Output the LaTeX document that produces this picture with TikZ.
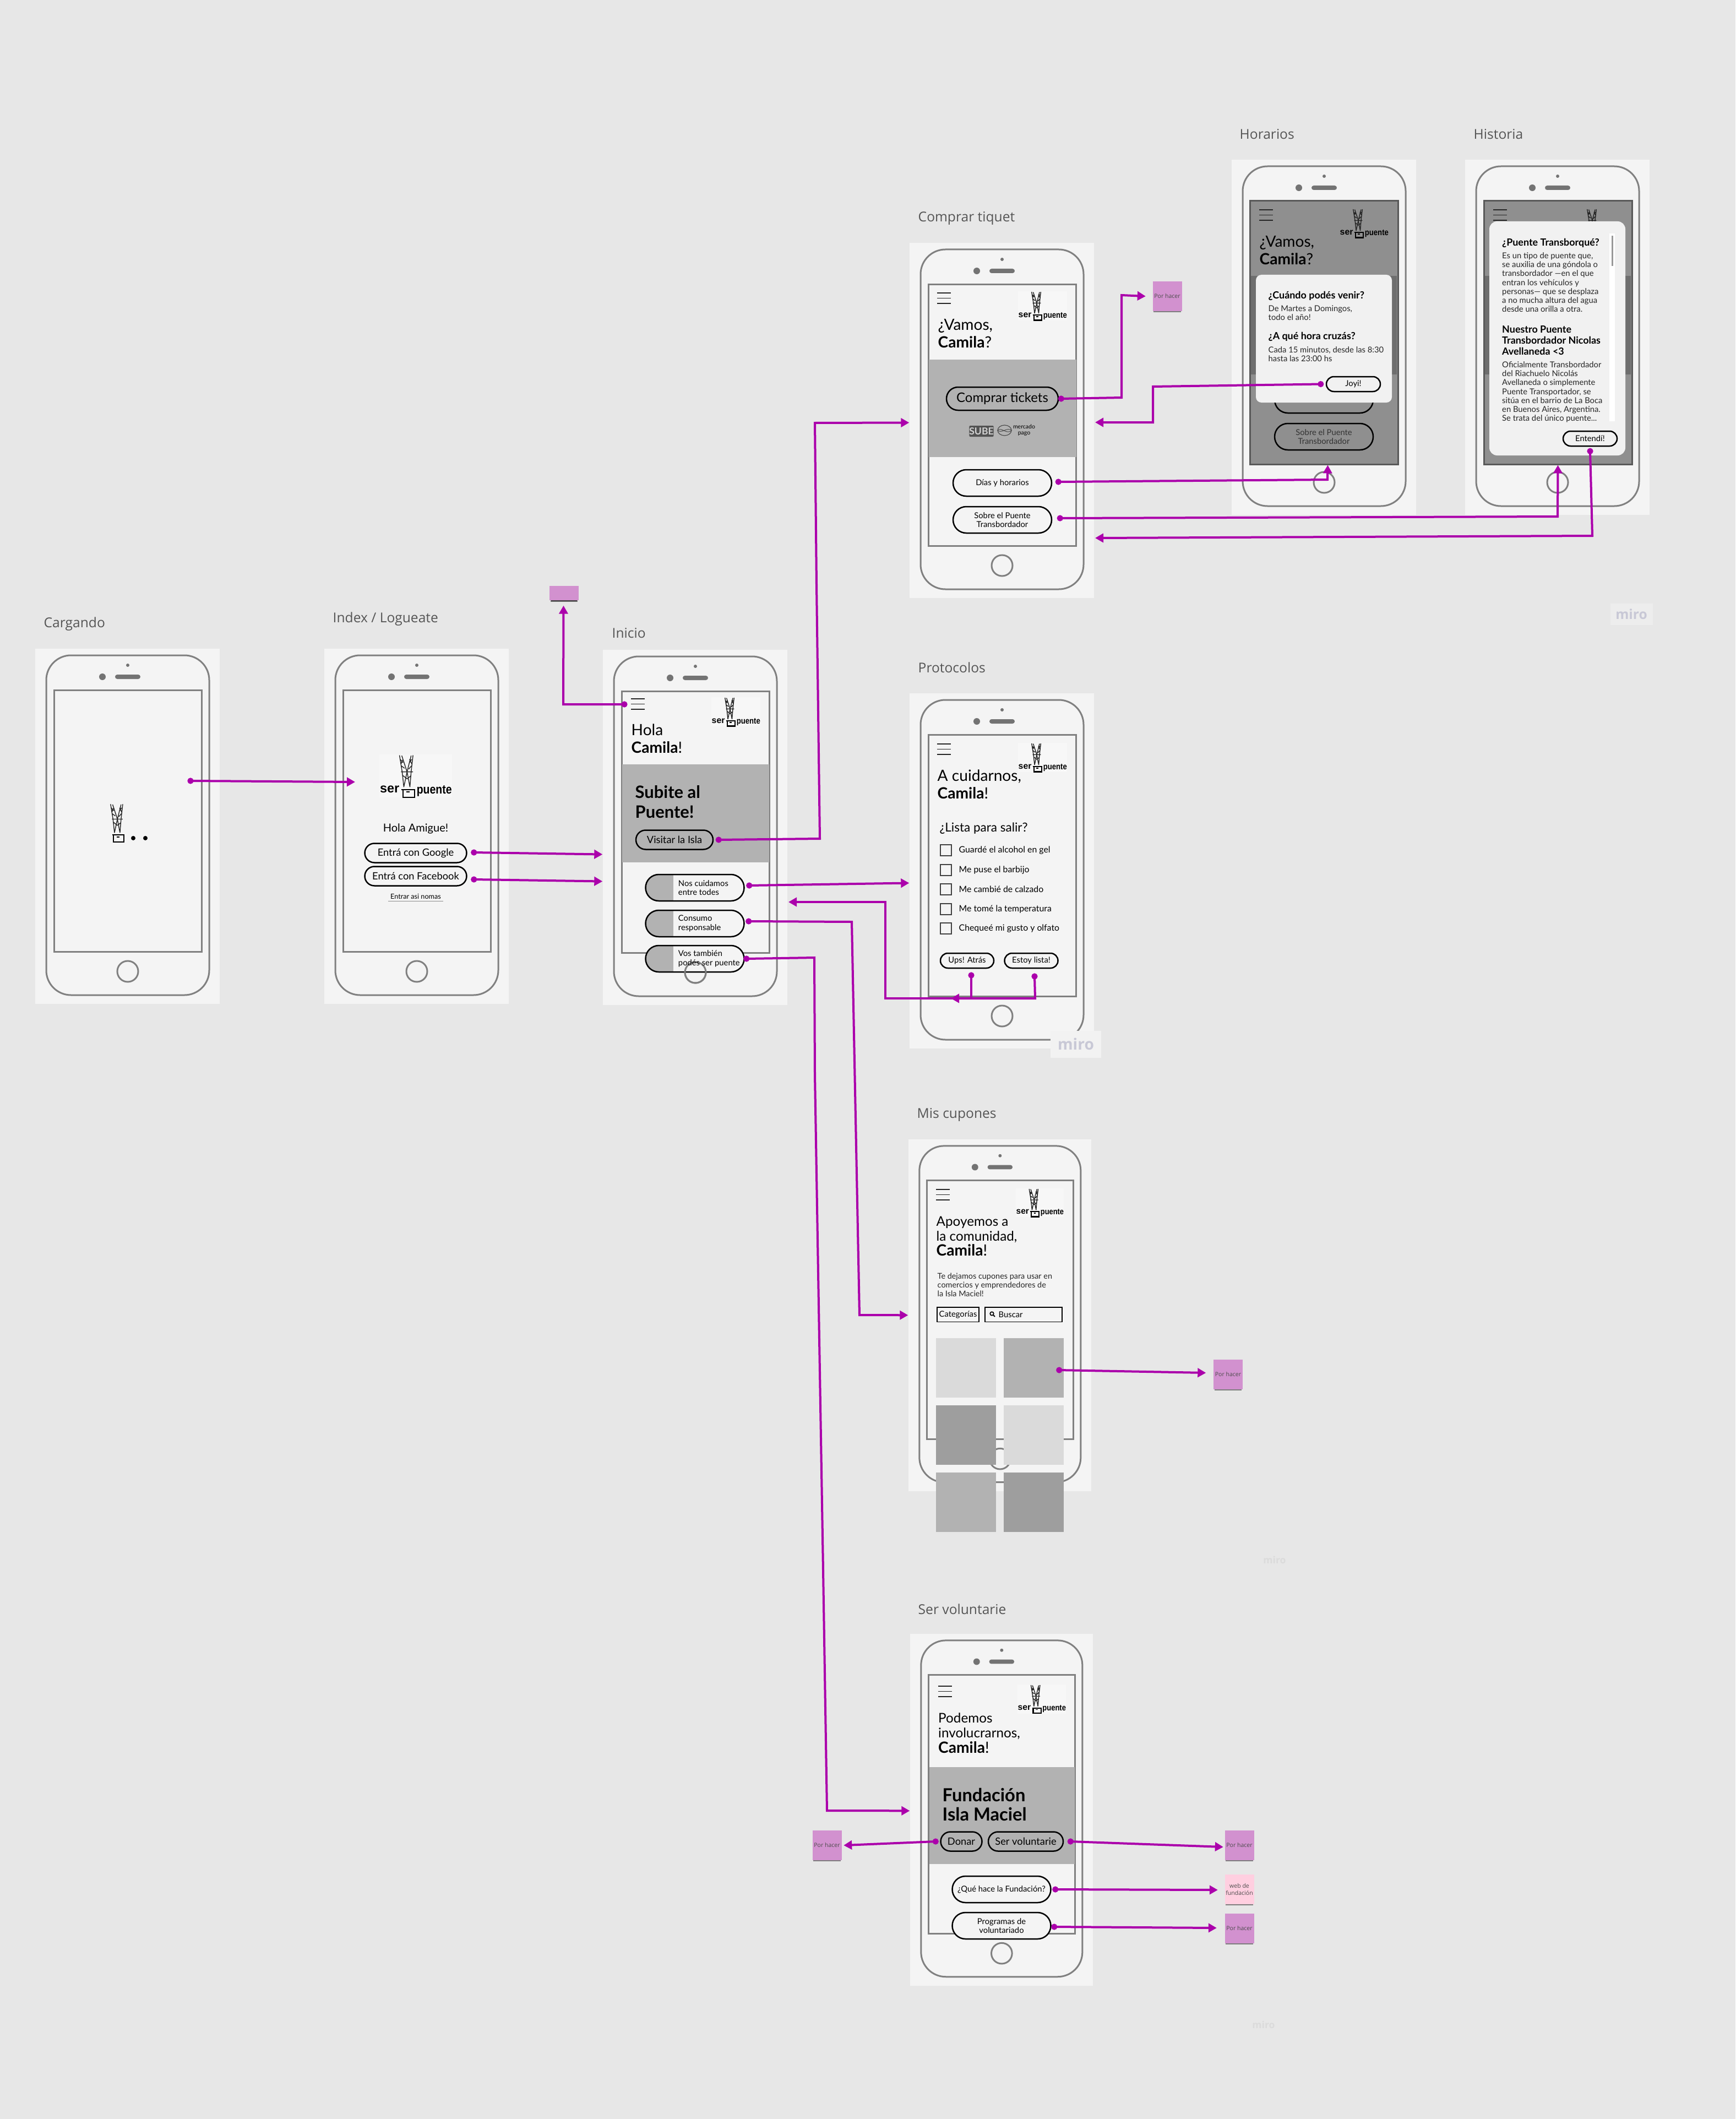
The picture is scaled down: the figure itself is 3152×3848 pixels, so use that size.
\documentclass[tikz,border=0pt]{standalone}
\usepackage{fontspec}
\setmainfont{Lato}
\setsansfont{Open Sans}
\newfontfamily\logofont{Liberation Sans}
\usetikzlibrary{arrows.meta,positioning,calc,shapes.misc,shapes.geometric,shadows}
\definecolor{canvas}{RGB}{231,231,231}
\definecolor{panelfill}{RGB}{244,244,244}
\definecolor{phoneedge}{RGB}{128,128,128}
\definecolor{herogrey}{RGB}{178,178,178}
\definecolor{dimscreen}{RGB}{143,143,143}
\definecolor{dimhero}{RGB}{110,110,110}
\definecolor{popfill}{RGB}{241,241,241}
\definecolor{tilelight}{RGB}{218,218,218}
\definecolor{tiledark}{RGB}{158,158,158}
\definecolor{flow}{RGB}{171,0,171}
\definecolor{notefill}{RGB}{210,145,207}
\definecolor{notelight}{RGB}{255,207,224}
\definecolor{labelgrey}{RGB}{85,85,85}
\definecolor{miroink}{RGB}{200,200,214}

\begin{document}
\begin{tikzpicture}[
  x=0.1mm, y=-0.1mm,
  >={Triangle[length=1.5mm,width=1.6mm]},
  every node/.style={align=center},
  arr/.style={{Circle[length=1.1mm]}->, draw=flow, line width=.4mm, shorten <=-.55mm},
  screenname/.style={font=\sffamily\fontsize{7}{9}\selectfont, text=labelgrey, anchor=west, inner sep=0},
  heading/.style={font=\fontsize{8}{9.1}\selectfont, anchor=west, align=left, inner sep=0},
  hero/.style={font=\fontsize{8.8}{10.1}\selectfont\bfseries, anchor=west, align=left, inner sep=0},
  bodytext/.style={font=\fontsize{4.2}{4.55}\selectfont, anchor=north west, align=left, inner sep=0, text=black!85},
  poptitle/.style={font=\fontsize{5.1}{5.7}\selectfont\bfseries, anchor=west, align=left, inner sep=0},
  pill/.style={rounded rectangle, draw=black, line width=.25mm, minimum width=17.9mm,
               minimum height=4.8mm, inner sep=0, font=\fontsize{4.2}{4.7}\selectfont},
  bigpill/.style={pill, font=\fontsize{5.2}{6}\selectfont},
  halfpill/.style={pill, fill=panelfill, path picture={
      \fill[herogrey] (path picture bounding box.south west) rectangle
                      ([xshift=5mm]path picture bounding box.north west);}},
  pilltext/.style={font=\fontsize{4.2}{4.7}\selectfont, anchor=west, align=left, inner sep=0},
  home/.style={circle, draw=phoneedge, line width=.3mm, minimum size=3.8mm, inner sep=0},
  tickbox/.style={rectangle, draw=black!75, line width=.15mm, minimum size=2mm, inner sep=0},
  sticky/.style={rectangle, fill=notefill, minimum width=5.3mm, minimum height=5.4mm, inner sep=0,
                 text=black!70, font=\sffamily\fontsize{3}{3.8}\selectfont,
                 drop shadow={shadow xshift=0mm, shadow yshift=-.42mm, shadow scale=.93, fill=black, opacity=.45}},
  tile/.style={rectangle, minimum width=10.9mm, minimum height=10.8mm, inner sep=0},
  miromark/.style={font=\sffamily\bfseries\fontsize{#1}{#1}\selectfont, text=miroink, inner sep=0},
  phone/.pic={
    \node[rectangle, fill=panelfill, minimum width=33.5mm, minimum height=64.5mm, inner sep=0, transform shape]
         (-panel) at (167.5,322.5) {};
    \draw[phoneedge, line width=.3mm, rounded corners=4.5mm] (20,12) rectangle (316,629);
    \node[rectangle, draw=phoneedge, line width=.3mm, minimum width=26.8mm, minimum height=47.5mm, inner sep=0, transform shape]
         (-screen) at (168,312.5) {};
    \fill[phoneedge!90!black] (122,51) circle (.6mm);
    \fill[phoneedge!90!black] (168,30) circle (.3mm);
    \fill[phoneedge!90!black, rounded corners=.4mm] (145,47) rectangle (191,55);
    \node[home, transform shape] (-home) at (168,586) {};
  },
  burger/.pic={
    \draw[black!85, line width=.14mm] (0,0) -- (25,0) (0,9.5) -- (25,9.5) (0,19) -- (25,19);
  },
  tower/.pic={
    \draw[black!85, line width=.14mm] (24.7,1) -- (28,21.4) -- (30,40) (27.5,1.5) -- (34,21.4)
        (41.3,1) -- (39,21.4) -- (37.5,40) (39,1.5) -- (34,21.4) (34,21.4) -- (30,40) (34,21.4) -- (37.5,40)
        (26.6,21.4) -- (41.3,21.4) (25.6,6) -- (29,10) (29,6) -- (26.4,12) (27,14) -- (31,17)
        (39.6,6) -- (37,10) (37,6) -- (40,12) (39.4,14) -- (36,18) (29,26) -- (34,30) (39,26) -- (34,30);
    \draw[black, line width=.22mm] (28.8,43) rectangle (43,52.5);
    \draw[black, line width=.2mm] (27,43) -- (43.8,43);
    \fill[black] (33.4,45) rectangle (37.2,46.8);
  },
  logomark/.pic={
    \pic[transform shape] {tower};
    \node[font=\logofont\bfseries\fontsize{4.5}{4.5}\selectfont, inner sep=0, anchor=west, transform shape]
         (-ser) at (0,43) {ser};
    \node[font=\logofont\bfseries\fontsize{4.4}{4.4}\selectfont, inner sep=0, anchor=east, transform shape, xscale=.85]
         (-puente) at (89.5,45) {puente};
  },
  logo/.pic={
    \fill[black!3] (0,0) rectangle (89,53);
    \pic[transform shape] {logomark};
  }
]

% =========================================================
% CANVAS
% =========================================================
\fill[canvas] (0,0) rectangle (3152,3848);
\useasboundingbox (0,0) rectangle (3152,3848);

\node[miromark=7, fill=black!7, minimum width=7.7mm, minimum height=3.9mm] (miroA) at (2963,1115) {miro};
\node[miromark=5, text=black!14] (miroC) at (2315,2833) {miro};
\node[miromark=5, text=black!14] (miroD) at (2295,3677) {miro};

% =========================================================
% CARGANDO
% =========================================================
\node[screenname] (cargandoName) at (79,1133) {Cargando};
\pic (cargando) at (64,1178) {phone};
\pic[scale=1.33] (cargandoTower) at (168,1459) {tower};
\node[circle, fill=black, minimum size=.8mm, inner sep=0] (dotA) at (242,1522) {};
\node[circle, fill=black, minimum size=.8mm, inner sep=0] (dotB) at (264,1522) {};

% =========================================================
% INDEX
% =========================================================
\node[screenname] (indexName) at (604,1124) {Index / Logueate};
\pic (index) at (589,1178) {phone};
\pic[scale=1.48] (indexLogo) at (689,1370) {logo};
\node[font=\fontsize{5.7}{6}\selectfont] (holaAmigue) at (755,1505) {Hola Amigue!};
\node[bigpill, minimum width=18.5mm, minimum height=3.5mm] (btnGoogle)   at (755,1549) {Entrá con Google};
\node[bigpill, minimum width=18.5mm, minimum height=3.5mm] (btnFacebook) at (755,1591) {Entrá con Facebook};
\node[font=\fontsize{3.6}{4}\selectfont, inner sep=.3mm] (entrarAsi) at (755,1628) {Entrar asi nomas};
\draw[black!45, line width=.1mm] (entrarAsi.south west) -- (entrarAsi.south east);

% =========================================================
% INICIO
% =========================================================
\node[screenname] (inicioName) at (1111,1150) {Inicio};
\pic (inicio) at (1095,1180) {phone};
\pic (inicioBurger) at (1146,1269) {burger};
\pic (inicioLogo) at (1292,1266) {logo};
\node[heading] (inicioHola) at (1146,1341) {Hola\\\textbf{Camila}!};
\fill[herogrey] (1130,1388) rectangle (1397,1566);
\node[hero] (inicioHero) at (1153,1456) {Subite al\\Puente!};
\node[bigpill, minimum width=14mm, minimum height=3.5mm] (btnVisitar) at (1225,1525) {Visitar la Isla};
\node[halfpill] (btnNos)     at (1262,1612) {};
\node[halfpill] (btnConsumo) at (1262,1677) {};
\node[halfpill] (btnVos)     at (1262,1741) {};
\node[home] (inicioHomeOver) at (inicio-home) {};
\node[pilltext] (txtNos)     at ([xshift=6mm]btnNos.west)     {Nos cuidamos\\entre todes};
\node[pilltext] (txtConsumo) at ([xshift=6mm]btnConsumo.west) {Consumo\\responsable};
\node[pilltext] (txtVos)     at ([xshift=6mm]btnVos.west)     {Vos también\\podés ser puente};

\node[sticky, minimum height=2.6mm, drop shadow={shadow xshift=0mm, shadow yshift=-.35mm, shadow scale=.9, fill=black, opacity=.45}]
     (noteMenu) at (1024.5,1077) {};

% =========================================================
% COMPRAR TIQUET
% =========================================================
\node[screenname] (comprarName) at (1667,396) {Comprar tiquet};
\pic (comprar) at (1652,441) {phone};
\pic (comprarBurger) at (1702,532) {burger};
\pic (comprarLogo) at (1849,529) {logo};
\node[heading] (comprarHola) at (1703,606) {¿Vamos,\\\textbf{Camila}?};
\fill[herogrey] (1687,653) rectangle (1955,830);
\node[bigpill, font=\fontsize{6.8}{8}\selectfont, minimum width=20.3mm, minimum height=4.2mm] (btnComprar) at (1820.5,724) {Comprar tickets};
\node[fill=black!68, text=black!18, rounded corners=.2mm, font=\bfseries\fontsize{5}{5}\selectfont,
      minimum width=4.1mm, minimum height=2mm, inner sep=0] (sube) at (1782.5,783) {SUBE};
\node[ellipse, draw=black!70, line width=.12mm, minimum width=2.5mm, minimum height=1.9mm, inner sep=0] (pagoMark) at (1824.5,781.5) {};
\draw[black!70, line width=.1mm] (pagoMark.west) .. controls (1820,775) and (1828,790) .. (pagoMark.east)
                                 (pagoMark.west) .. controls (1820,788) and (1828,775) .. (pagoMark.east);
\node[font=\fontsize{3}{3.1}\selectfont, inner sep=0] (pagoText) at (1860,781) {mercado\\pago};
\node[pill] (btnDias)  at (1820.5,877) {Días y horarios};
\node[pill] (btnSobre) at (1820.5,944) {Sobre el Puente\\Transbordador};
\node[sticky] (noteTicket) at (2120,538) {Por hacer};

% =========================================================
% HORARIOS
% =========================================================
\node[screenname] (horariosName) at (2251,244) {Horarios};
\pic (horarios) at (2237,290) {phone};
\node[rectangle, draw=black!65, fill=dimscreen, line width=.3mm, minimum width=26.9mm, minimum height=47.8mm, inner sep=0]
     (horariosDim) at (2404.5,604) {};
\fill[dimhero] (2272,501) rectangle (2537,680);
\pic (horariosBurger) at (2287,381) {burger};
\pic (horariosLogo) at (2433,379) {logomark};
\node[heading] (horariosHola) at (2287,455) {¿Vamos,\\\textbf{Camila}?};
\node[pill, draw=black] (behindDias)  at (2404.5,726) {};
\node[pill, draw=black, text=black!80] (behindSobre) at (2404.5,793) {Sobre el Puente\\Transbordador};
\fill[popfill, rounded corners=1mm] (2281,499) rectangle (2528,731);
\node[poptitle] (cuandoTitle) at (2303,537) {¿Cuándo podés venir?};
\node[bodytext] (cuandoText) at (2303,554) {De Martes a Domingos,\\todo el año!};
\node[poptitle] (horaTitle) at (2303,611) {¿A qué hora cruzás?};
\node[bodytext] (horaText) at (2303,629) {Cada 15 minutos, desde las 8:30\\hasta las 23:00 hs};
\node[pill, minimum width=9.8mm, minimum height=2.7mm] (btnJoyi) at (2458,697.5) {Joyi!};

% =========================================================
% HISTORIA
% =========================================================
\node[screenname] (historiaName) at (2676,244) {Historia};
\pic (historia) at (2661,290) {phone};
\node[rectangle, draw=black!65, fill=dimscreen, line width=.3mm, minimum width=26.9mm, minimum height=47.8mm, inner sep=0]
     (historiaDim) at (2829.5,604) {};
\fill[dimhero] (2697,501) rectangle (2962,680);
\pic (historiaBurger) at (2712,381) {burger};
\pic (historiaLogo) at (2858,379) {logomark};
\fill[popfill, rounded corners=1.4mm] (2705,402) rectangle (2952,827);
\fill[white] (2923,424) rectangle (2933,765);
\fill[black!40] (2926.5,428) rectangle (2930,483);
\node[poptitle] (puenteTitle) at (2727.5,441) {¿Puente Transborqué?};
\node[bodytext, font=\fontsize{4.2}{4.6}\selectfont] (puenteText) at (2727.5,458)
     {Es un tipo de puente que,\\se auxilia de una góndola o\\transbordador —en el que\\entran los vehículos y\\personas— que se desplaza\\a no mucha altura del agua\\desde una orilla a otra.};
\node[poptitle, font=\fontsize{5.1}{5.8}\selectfont\bfseries] (nuestroTitle) at (2727.5,618)
     {Nuestro Puente\\Transbordador Nicolas\\Avellaneda <3};
\node[bodytext, font=\fontsize{4.2}{4.6}\selectfont] (nuestroText) at (2727.5,656)
     {Oficialmente Transbordador\\del Riachuelo Nicolás\\Avellaneda o simplemente\\Puente Transportador, se\\sitúa en el barrio de La Boca\\en Buenos Aires, Argentina.\\Se trata del único puente...};
\node[pill, minimum width=9.8mm, minimum height=2.7mm] (btnEntendi) at (2888,796.5) {Entendí!};

% =========================================================
% PROTOCOLOS
% =========================================================
\node[screenname] (protocolosName) at (1667,1212) {Protocolos};
\pic (protocolos) at (1652,1259) {phone};
\pic (protocolosBurger) at (1702,1351) {burger};
\pic (protocolosLogo) at (1849,1349) {logo};
\node[heading] (protocolosHola) at (1702,1424) {A cuidarnos,\\\textbf{Camila}!};
\node[font=\fontsize{6.4}{7}\selectfont, anchor=west, inner sep=0] (listaTitle) at (1706,1504) {¿Lista para salir?};
\foreach \rowy/\rowname/\rowtext in {1544/Alcohol/Guardé el alcohol en gel, 1580/Barbijo/Me puse el barbijo,
    1615/Calzado/Me cambié de calzado, 1651/Temperatura/Me tomé la temperatura, 1686/Olfato/Chequeé mi gusto y olfato}{
  \node[tickbox] (box\rowname) at (1718,\rowy) {};
  \node[pilltext, font=\fontsize{4.5}{5}\selectfont] (txt\rowname) at (1741,\rowy) {\rowtext};
}
\node[pill, minimum width=9.7mm, minimum height=2.7mm] (btnUps)   at (1756.5,1744.5) {Ups! Atrás};
\node[pill, minimum width=9.7mm, minimum height=2.7mm] (btnEstoy) at (1873,1744.5) {Estoy lista!};
\node[miromark=8, fill=black!5, minimum width=9.2mm, minimum height=4.9mm] (miroB) at (1954,1896) {miro};

% =========================================================
% MIS CUPONES
% =========================================================
\node[screenname] (cuponesName) at (1665,2024) {Mis cupones};
\pic[scale=.99] (cupones) at (1650,2069) {phone};
\pic (cuponesBurger) at (1700,2160) {burger};
\pic[scale=.98] (cuponesLogo) at (1845,2158) {logo};
\node[heading, font=\fontsize{6.9}{7.6}\selectfont] (cuponesHola) at (1700,2245) {Apoyemos a\\la comunidad,\\\fontsize{8}{7.6}\selectfont\textbf{Camila}!};
\node[bodytext, font=\fontsize{4.1}{4.55}\selectfont] (cuponesText) at (1702,2311) {Te dejamos cupones para usar en\\comercios y emprendedores de\\la Isla Maciel!};
\node[draw=black, line width=.15mm, minimum width=7.6mm, minimum height=2.65mm, inner sep=0, font=\fontsize{4.2}{4.5}\selectfont]
     (boxCategorias) at (1740,2387) {Categorías};
\node[draw=black, line width=.15mm, minimum width=14mm, minimum height=2.65mm, inner sep=0] (boxBuscar) at (1859,2387) {};
\node[circle, draw=black, line width=.17mm, minimum size=.65mm, inner sep=0] (lupa) at (1801.5,2385.5) {};
\draw[black, line width=.2mm] (lupa.south east) -- ++(2.5,2.5);
\node[pilltext] (txtBuscar) at (1813,2387) {Buscar};
\node[tile, fill=tilelight] (tileA) at (1754.5,2484) {};
\node[tile, fill=herogrey]  (tileB) at (1877.5,2484) {};
\node[tile, fill=tiledark]  (tileC) at (1754.5,2606) {};
\node[tile, fill=tilelight] (tileD) at (1877.5,2606) {};
\node[tile, fill=herogrey]  (tileE) at (1754.5,2728) {};
\node[tile, fill=tiledark]  (tileF) at (1877.5,2728) {};
\node[sticky] (noteCupon) at (2230.5,2496) {Por hacer};

% =========================================================
% SER VOLUNTARIE
% =========================================================
\node[screenname] (serName) at (1667,2922) {Ser voluntarie};
\pic[scale=.99] (voluntarie) at (1653,2967) {phone};
\pic (voluntarieBurger) at (1703.5,3062) {burger};
\pic[scale=.99] (voluntarieLogo) at (1848,3059) {logo};
\node[heading, font=\fontsize{6.9}{7.9}\selectfont] (voluntarieHola) at (1703.5,3147) {Podemos\\involucrarnos,\\\fontsize{8}{7.9}\selectfont\textbf{Camila}!};
\fill[herogrey] (1688,3209) rectangle (1952,3385);
\node[hero, font=\fontsize{9.3}{10}\selectfont\bfseries] (voluntarieHero) at (1711,3277) {Fundación\\Isla Maciel};
\node[bigpill, minimum width=7.5mm, minimum height=3.5mm] (btnDonar) at (1746,3344) {Donar};
\node[bigpill, minimum width=13.6mm, minimum height=3.5mm] (btnVoluntarie) at (1863,3344) {Ser voluntarie};
\node[pill, fill=panelfill] (btnQue) at (1819,3431) {¿Qué hace la Fundación?};
\node[pill, fill=panelfill] (btnProgramas) at (1819,3497) {Programas de\\voluntariado};
\node[sticky] (noteDonar) at (1502,3351) {Por hacer};
\node[sticky] (noteVoluntarie) at (2251,3351) {Por hacer};
\node[sticky, fill=notelight] (noteWeb) at (2251,3431) {web de\\fundación};
\node[sticky] (noteProgramas) at (2251,3502) {Por hacer};

% =========================================================
% CONNECTORS
% =========================================================
\coordinate (cargandoOut) at (346,1418);
\coordinate (indexIn) at (645,1420);
\draw[arr] (cargandoOut) -- (indexIn);

\draw[arr] ([shift={(12,-1)}]btnGoogle.east)   -- ([shift={(0,49)}]inicio-panel.west);
\draw[arr] ([shift={(12,6)}]btnFacebook.east)  -- ([shift={(0,98)}]inicio-panel.west);

% menu goes up to the small note
\coordinate (menuOut) at (1134,1279);
\draw[arr] (menuOut) -- (1023,1279) -- ([shift={(-1,9)}]noteMenu.south);

% Inicio to the four sections
\draw[arr] ([xshift=.9mm]btnVisitar.east) -- (1489,1523) -- (1483,1063) -- (1480,768) -- ([shift={(0,4)}]comprar-panel.west);
\draw[arr] ([shift={(8,-4)}]btnNos.east) -- ([shift={(0,22)}]protocolos-panel.west);
\draw[arr] ([shift={(7,-4)}]btnConsumo.east) -- (1547,1674) -- (1561,2388) -- (cupones-panel.west);
\draw[arr] ([shift={(3,0)}]btnVos.east) -- (1479,1739) -- (1480,1952) -- (1495,2852) -- (1502,3288) -- ([shift={(0,2)}]voluntarie-panel.west);

% back from Protocolos
\coordinate (upsOut) at (1764,1771);
\coordinate (estoyOut) at (1879,1773);
\coordinate (inicioBack) at (1432,1638);
\coordinate (protocolosBack) at (1727,1813);
\draw[arr] (upsOut) -- (1764,1813) -- (1608,1813) -- (1608,1638) -- (inicioBack);
\draw[arr] (estoyOut) -- (1880,1813) -- (protocolosBack);

% Comprar tiquet out and back
\draw[arr] ([xshift=.4mm]btnComprar.east) -- (2037,722) -- (2037,536) -- ([xshift=-1.2mm]noteTicket.west);
\coordinate (comprarBack) at (1989,767);
\coordinate (comprarBackB) at (1989,977);
\draw[arr] ([xshift=-.9mm]btnJoyi.west) -- (2094,702) -- (2094,767) -- (comprarBack);
\draw[arr] ([shift={(11,-2)}]btnDias.east) -- (2411,871) -- ([shift={(7,0)}]horariosDim.south);
\draw[arr] ([shift={(14,-3)}]btnSobre.east) -- (2829,938) -- (historiaDim.south);
\draw[arr] ([shift={(0,8)}]btnEntendi.south) -- (2892,973) -- (comprarBackB);

% sticky notes
\draw[arr] ([shift={(-9,4)}]tileB.east) -- ([shift={(-13,-3)}]noteCupon.west);
\draw[arr] ([xshift=-.8mm]btnDonar.west) -- ([xshift=.3mm]noteDonar.east);
\draw[arr] ([xshift=1.2mm]btnVoluntarie.east) -- ([shift={(-2,3)}]noteVoluntarie.west);
\draw[arr] ([xshift=.7mm]btnQue.east) -- ([shift={(-12,1)}]noteWeb.west);
\draw[arr] ([shift={(5,2)}]btnProgramas.east) -- ([shift={(-14,-1)}]noteProgramas.west);

\end{tikzpicture}
\end{document}
